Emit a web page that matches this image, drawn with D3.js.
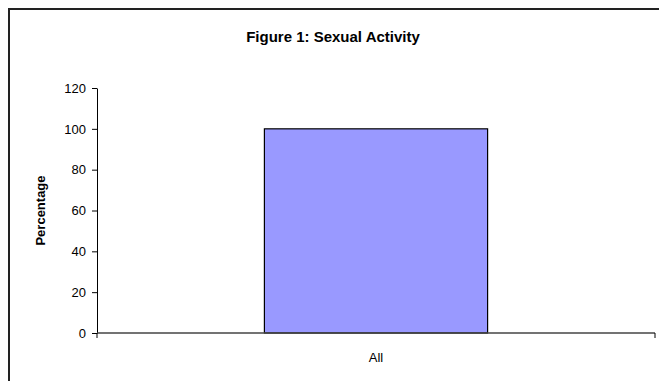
<!DOCTYPE html>
<html>
<head>
<meta charset="utf-8">
<script src="https://cdn.jsdelivr.net/npm/d3@7"></script>
<style>
  body { margin: 0; background: #fff; }
  text { font-family: "Liberation Sans", Arial, sans-serif; }
</style>
</head>
<body>
<svg id="chart" width="659" height="381"></svg>
<script>
const categories = ["All"];
const percentages = [100];
const yTicks = [0, 20, 40, 60, 80, 100, 120];

const svg = d3.select("#chart");
const margin = { top: 88, right: 4, bottom: 48, left: 97 };
const width = 659 - margin.left - margin.right;
const height = 381 - margin.top - margin.bottom;

// outer chart frame (right/bottom edges fall off the picture)
svg.append("rect")
  .attr("x", 9).attr("y", 9)
  .attr("width", 700).attr("height", 400)
  .attr("fill", "none")
  .attr("stroke", "#222")
  .attr("stroke-width", 2);

svg.append("text")
  .attr("x", 333).attr("y", 42)
  .attr("text-anchor", "middle")
  .style("font-size", "15px")
  .style("font-weight", "bold")
  .text("Figure 1: Sexual Activity");

const g = svg.append("g").attr("transform", `translate(${margin.left},${margin.top})`);

const x = d3.scaleBand()
  .domain(categories)
  .range([0, width])
  .paddingInner(0.6)
  .paddingOuter(0.3);

const y = d3.scaleLinear().domain([0, 120]).range([height, 0]);

g.selectAll(".bar")
  .data(percentages)
  .enter().append("rect")
  .attr("class", "bar")
  .attr("x", (d, i) => x(categories[i]))
  .attr("y", d => y(d))
  .attr("width", x.bandwidth())
  .attr("height", d => height - y(d))
  .attr("fill", "#9999ff")
  .attr("stroke", "#000")
  .attr("stroke-width", 1.2);

// y axis
const yAxis = g.append("g")
  .call(d3.axisLeft(y).tickValues(yTicks).tickSize(5).tickPadding(6).tickSizeOuter(0));
yAxis.select(".domain").attr("stroke", "#000");
yAxis.selectAll("text").style("font-size", "13px").attr("fill", "#000");

// x axis: ticks on category boundaries
const xg = g.append("g").attr("transform", `translate(0,${height})`);
xg.append("line")
  .attr("x1", 0).attr("x2", width)
  .attr("stroke", "#444").attr("stroke-width", 1.5);
xg.selectAll(".bound")
  .data([0, width])
  .enter().append("line")
  .attr("x1", d => d).attr("x2", d => d)
  .attr("y1", 0).attr("y2", 5)
  .attr("stroke", "#000");
xg.selectAll(".cat")
  .data(categories)
  .enter().append("text")
  .attr("x", d => x(d) + x.bandwidth() / 2)
  .attr("y", 29)
  .attr("text-anchor", "middle")
  .style("font-size", "13px")
  .text(d => d);

svg.append("text")
  .attr("transform", `translate(45,${margin.top + height / 2}) rotate(-90)`)
  .attr("text-anchor", "middle")
  .style("font-size", "13px")
  .style("font-weight", "bold")
  .text("Percentage");
</script>
</body>
</html>
